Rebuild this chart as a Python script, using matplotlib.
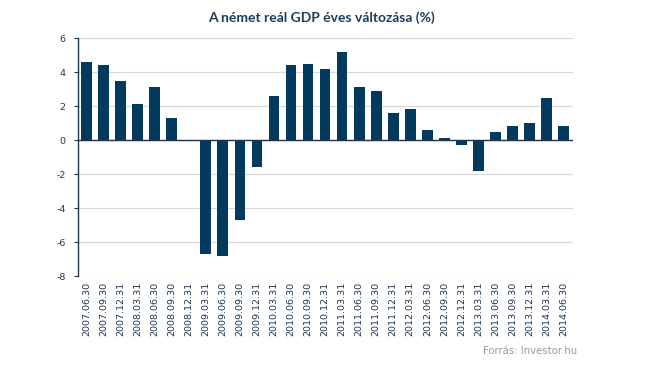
import matplotlib
matplotlib.use("Agg")
import matplotlib.pyplot as plt

dates = ["2007.06.30", "2007.09.30", "2007.12.31", "2008.03.31", "2008.06.30", "2008.09.30",
         "2008.12.31", "2009.03.31", "2009.06.30", "2009.09.30", "2009.12.31", "2010.03.31",
         "2010.06.30", "2010.09.30", "2010.12.31", "2011.03.31", "2011.06.30", "2011.09.30",
         "2011.12.31", "2012.03.31", "2012.06.30", "2012.09.30", "2012.12.31", "2013.03.31",
         "2013.06.30", "2013.09.30", "2013.12.31", "2014.03.31", "2014.06.30"]
growth = [4.60, 4.42, 3.48, 2.12, 3.12, 1.30, 0.0, -6.70, -6.82, -4.70, -1.57, 2.59,
          4.42, 4.48, 4.18, 5.19, 3.12, 2.89, 1.59, 1.83, 0.59, 0.12, -0.28, -1.81,
          0.47, 0.83, 1.00, 2.48, 0.83]
yticks = [-8, -6, -4, -2, 0, 2, 4, 6]

navy = "#033a5e"
txt = "#1d3550"

fig = plt.figure(figsize=(6.45, 3.75), dpi=100)
ax = fig.add_axes([78/645, 1-276/375, 495/645, (276-38)/375])

x = list(range(len(dates)))
ax.bar(x, growth, width=0.63, color=navy, zorder=3)
ax.set_xlim(-0.5, len(dates) - 0.45)
ax.set_ylim(-8, 6)
ax.set_yticks(yticks)
ax.set_yticklabels([str(v) for v in yticks], fontsize=6.8, color=txt)
ax.set_xticks(x)
ax.set_xticklabels(dates, rotation=90, fontsize=6.8, color=txt)
ax.tick_params(axis='x', length=0, pad=4)
ax.tick_params(axis='y', length=3, color=txt, width=0.8, pad=6)
ax.grid(axis='y', color="#d9d9d9", linewidth=0.9, zorder=0)
for s in ["top", "right", "bottom"]:
    ax.spines[s].set_visible(False)
ax.spines["left"].set_color(txt)
ax.spines["left"].set_linewidth(1.0)
ax.axhline(0, color=txt, linewidth=1.0, zorder=4)

fig.text(321/645, 1-18/375, "A német reál GDP éves változása (%)", ha="center", va="center",
         fontsize=10, fontweight="bold", color="#1a3d5c", family=["Lato", "DejaVu Sans"])
fig.text(577/645, 1-351/375, "Forrás: Investor.hu", ha="right", va="center",
         fontsize=7.3, color="#9a9a9a")

fig.savefig("out.png", dpi=100)
